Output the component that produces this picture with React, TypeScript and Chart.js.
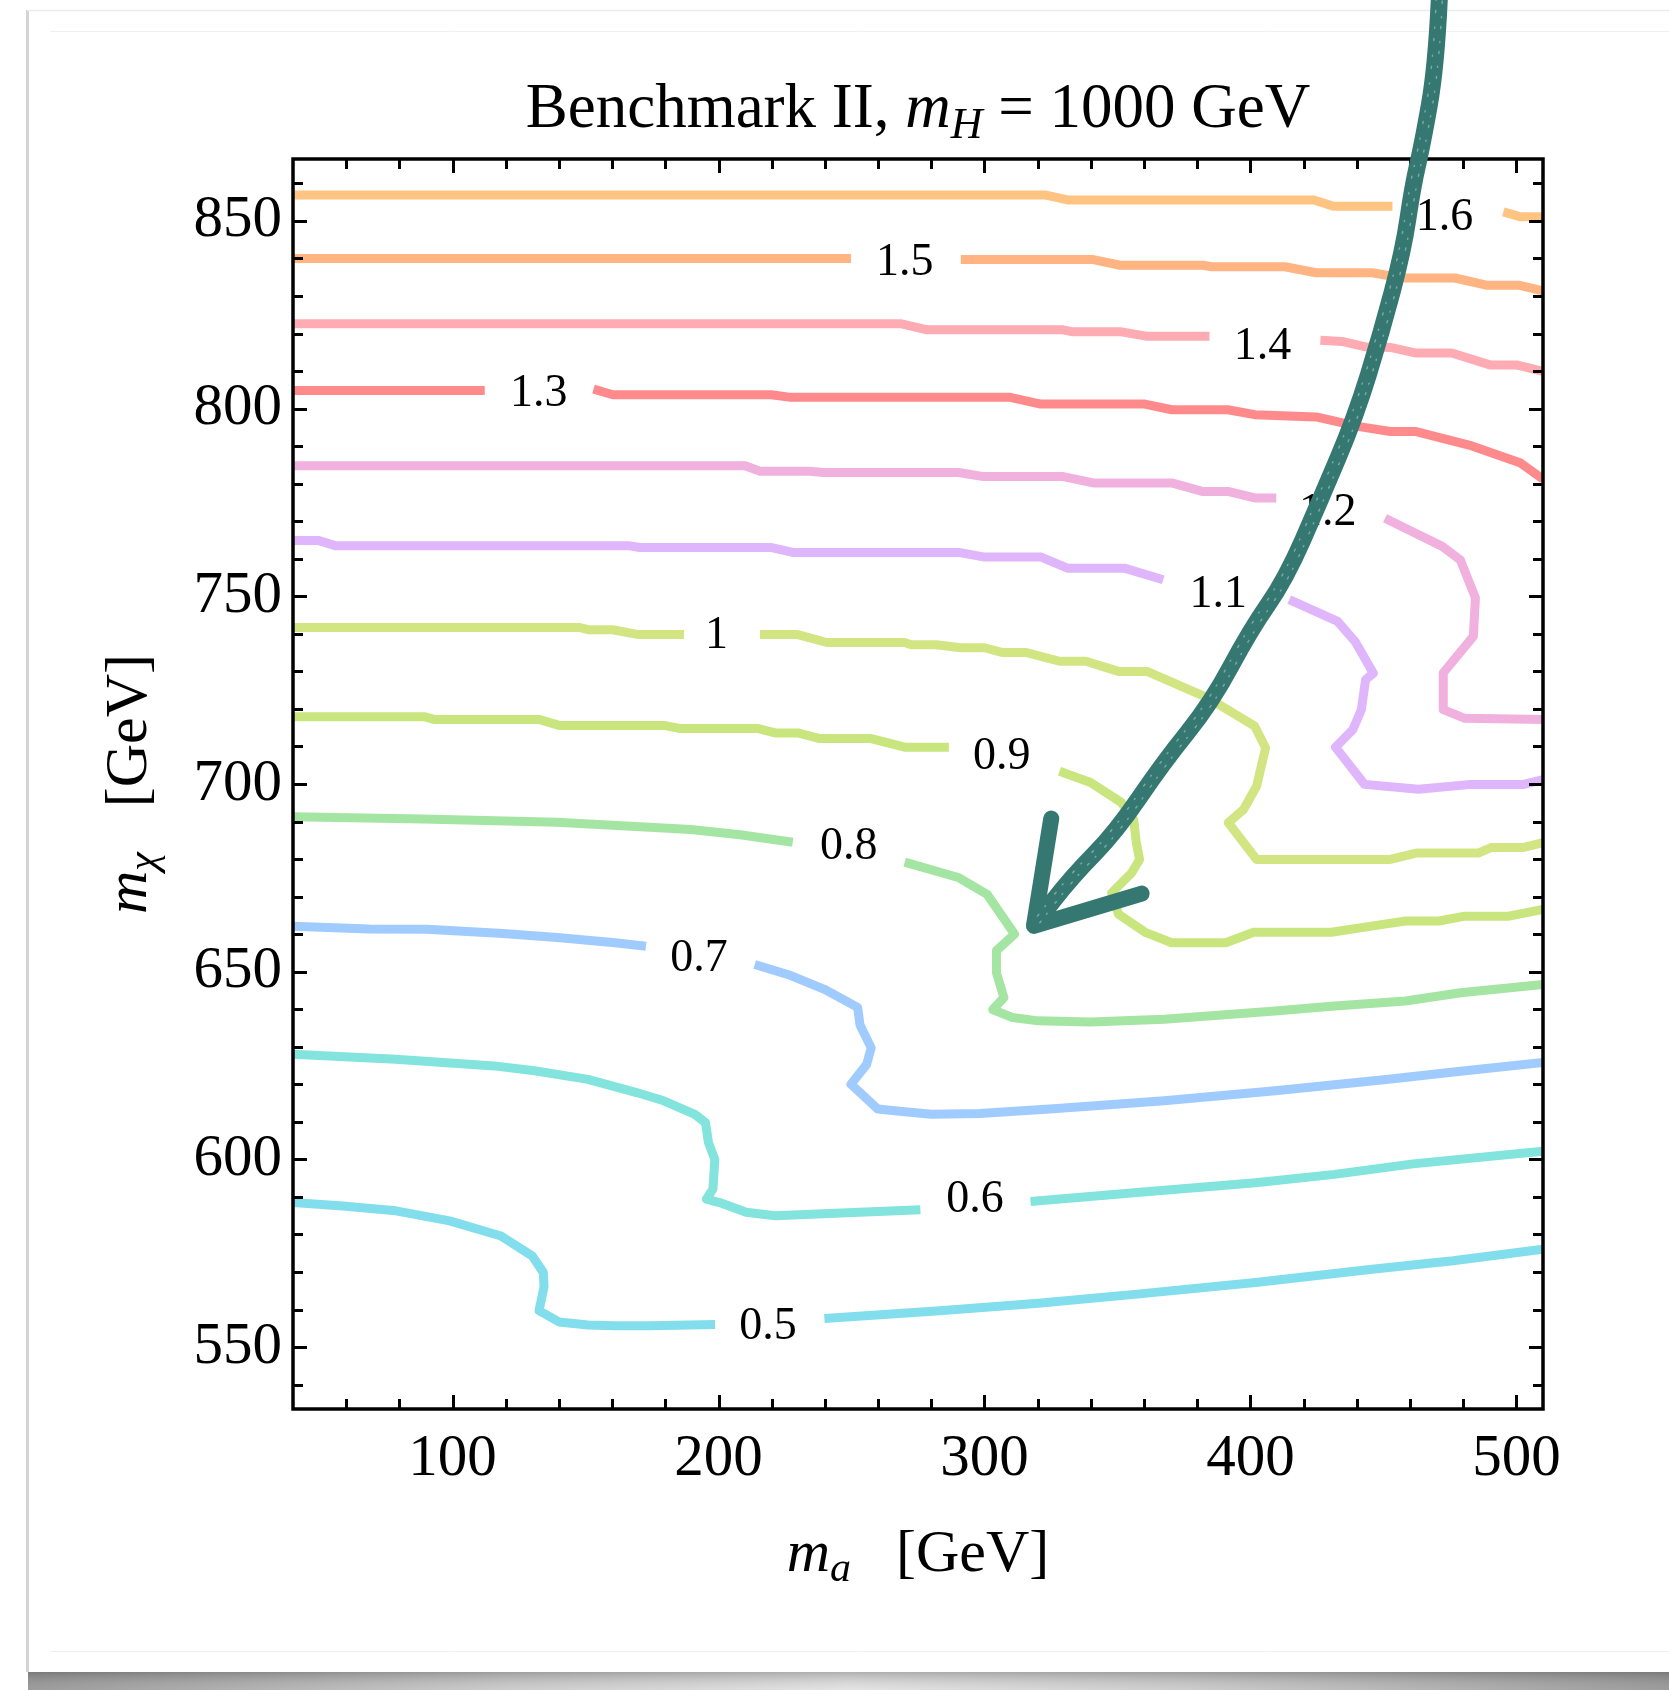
import React, { useEffect, useRef } from "react";
import { Chart, registerables } from "chart.js";

Chart.register(...registerables);

const PAGE_W = 1669;
const PAGE_H = 1690;

// Axis ranges and ticks
const xRange = [40, 510];
const yRange = [533.5, 866.5];
const xTickValues = [100, 200, 300, 400, 500];
const yTickValues = [550, 600, 650, 700, 750, 800, 850];
const xMinorStep = 20;
const yMinorStep = 10;

// Contour levels: each level is a list of polyline segments [m_a, m_chi]
const level16 = [
  [[40, 856.9], [323.1, 856.9], [331.2, 855.6], [423.9, 855.6], [431.2, 853.9], [453.4, 853.9]],
  [[495.1, 852.4], [501.6, 851.1], [510, 851.1]],
];
const level15 = [
  [[40, 840.0], [249.8, 840.0]],
  [[291.1, 839.7], [340.9, 839.7], [351, 838.2], [382.2, 838.2], [385.4, 837.8], [413, 837.8], [424.7, 836.2], [445.7, 836.2], [457.5, 834.8], [476.9, 834.8], [488.7, 832.9], [500.8, 832.9], [510, 831.4]],
];
const level14 = [
  [[40, 822.6], [268.8, 822.6], [278.5, 821.0], [329.6, 821.0], [332.8, 820.5], [351, 820.5], [360.7, 819.3], [384.6, 819.3]],
  [[426.3, 818.2], [434.4, 817.9], [442.9, 816.5], [452.6, 816.3], [462.3, 814.8], [475.7, 814.8], [490.3, 811.6], [500.4, 811.6], [510, 809.9]],
];
const level13 = [
  [[40, 804.8], [112.1, 804.8]],
  [[153, 805.2], [160.3, 803.7], [219.8, 803.7], [227.1, 803.0], [309.7, 803.0], [321.1, 801.2], [360.3, 801.2], [370.4, 799.7], [391.5, 799.7], [401.6, 798.4], [424.7, 797.8], [440.9, 795.2], [452.6, 793.9], [462.3, 793.9], [482.2, 790.3], [501.6, 785.5], [510, 781.2]],
];
const level12 = [
  [[40, 784.8], [210, 784.8], [215.6, 783.3], [234.3, 783.3], [239.3, 783.0], [290.3, 783.0], [299.6, 781.9], [329.6, 781.9], [340.9, 780.2], [370.4, 780.2], [382.2, 777.9], [391.9, 777.9], [401.6, 776.2], [409.7, 776.2]],
  [[450.6, 770.8], [472.1, 763.3], [478.9, 759.7], [484.6, 749.6], [483.8, 739.3], [472.5, 729.6], [472.5, 719.8], [480.6, 717.5], [510, 717.2]],
];
const level11 = [
  [[40, 764.9], [49.4, 764.9], [55.9, 763.5], [166, 763.5], [170.4, 763.0], [220, 763.0], [227.9, 761.7], [290.3, 761.7], [299.6, 760.5], [321.1, 760.5], [331.2, 757.5], [352.6, 757.5], [367.2, 754.4]],
  [[414.6, 749.1], [432.8, 743.3], [439.3, 738.0], [443.3, 733.1], [446.2, 729.5], [443.3, 727.8], [441.7, 719.8], [438.5, 714.5], [432, 709.8], [442.9, 699.9], [463.2, 698.6], [483, 699.9], [502.8, 699.9], [510, 701.2]],
];
const level10 = [
  [[40, 741.7], [147.6, 741.7], [151, 741.1], [160.1, 741.1], [170, 739.8], [187, 739.8]],
  [[215.6, 739.8], [229.8, 739.8], [240.7, 737.7], [270, 737.7], [272.5, 737.1], [281.8, 737.1], [291.1, 736.3], [300, 736.3], [306.9, 735.0], [315.8, 735.0], [328.2, 732.7], [338.1, 732.7], [350.4, 730.0], [361.1, 730.0], [384.2, 722.9], [401.6, 715.4], [405.7, 709.6], [402.3, 699.4], [397.4, 693.2], [391.7, 689.7], [402.3, 679.9], [452.6, 679.9], [462.3, 681.6], [485.6, 681.6], [490.7, 683.1], [502.8, 683.1], [510, 684.4]],
];
const level09 = [
  [[40, 717.9], [89.7, 717.9], [93.1, 717.2], [132.4, 717.2], [140.1, 715.6], [179.4, 715.6], [185.3, 714.8], [214.6, 714.8], [221.3, 713.6], [229.8, 713.6], [238.1, 712.1], [257.4, 712.1], [270, 709.8], [286.6, 709.8]],
  [[328.2, 703.4], [339.9, 700.4], [351.4, 695.1], [356.1, 690.5], [357.1, 684.3], [358.3, 679.9], [355.3, 676.3], [347.8, 671.0], [350.4, 665.3], [360.7, 660.4], [370.4, 657.7], [390.7, 657.7], [401.2, 660.5], [430.4, 660.5], [449.8, 662.6], [458.3, 663.5], [470.9, 663.5], [480.6, 664.8], [497.2, 664.8], [510, 666.6]],
];
const level08 = [
  [[40, 691.3], [88.9, 690.7], [139.3, 689.8], [189.6, 687.9], [208.1, 686.5], [227.9, 684.5]],
  [[270, 679.2], [290.1, 675.1], [301, 670.6], [311.3, 660.0], [304.5, 655.6], [304.5, 649.7], [307.3, 643.1], [303.1, 639.9], [310.5, 637.8], [320.2, 636.9], [339.9, 636.6], [367.6, 637.3], [409.3, 639.5], [430.4, 640.8], [458.3, 642.2], [479, 644.4], [510, 646.6]],
];
const level07 = [
  [[40, 662.1], [68.6, 661.4], [90.3, 661.3], [119, 660.2], [139.3, 659.1], [161.1, 657.7], [172.7, 656.8]],
  [[213.6, 651.9], [226.3, 649.2], [239.8, 645.3], [252.3, 640.5], [253.2, 635.8], [257.4, 629.7], [255.7, 625.3], [249.8, 620.0], [259.9, 613.4], [270, 612.7], [280.1, 612.0], [298.2, 612.2], [325.9, 613.5], [367.6, 615.6], [409.3, 618.3], [451, 621.3], [479, 623.5], [510, 625.8]],
];
const level06 = [
  [[40, 628.0], [78.7, 626.7], [115.6, 624.9], [130.8, 623.6], [150.9, 621.3], [169.2, 617.8], [179.4, 615.6], [191.1, 612.0], [195.1, 609.8], [196.2, 604.5], [198.6, 600.0], [197.9, 592.1], [195.4, 589.4], [200.4, 588.5], [210.4, 585.9], [221.3, 585.0], [253, 585.9], [275.9, 586.6]],
  [[317.3, 588.8], [357.4, 591.2], [401.9, 593.8], [431.6, 596.0], [461.1, 598.8], [510, 602.2]],
];
const level05 = [
  [[40, 588.5], [58.7, 587.6], [78.7, 586.3], [98.9, 583.6], [118.2, 579.6], [129.9, 574.3], [134.1, 569.9], [134.4, 566.1], [132.5, 559.7], [140, 556.7], [150.9, 555.9], [161, 555.7], [174.4, 555.7], [198.7, 556.0]],
  [[239.8, 557.6], [283.2, 559.7], [320.2, 561.7], [357.4, 564.1], [401.9, 567.2], [446.6, 570.8], [476.2, 573.0], [510, 576.1]],
];

const levels = [level16, level15, level14, level13, level12, level11, level10, level09, level08, level07, level06, level05];
const levelColors = ["#FFC382", "#FFB482", "#FFABB3", "#FF8A8C", "#F0B1DF", "#DFB5FC", "#D3E582", "#C9E57E", "#A5E5A4", "#9FCBFE", "#82E4DC", "#82DEEC"];

// Contour labels and where they sit on their lines
const labelText = ["1.6", "1.5", "1.4", "1.3", "1.2", "1.1", "1", "0.9", "0.8", "0.7", "0.6", "0.5"];
const labelX = [473, 270, 404.5, 132.4, 429.1, 387.9, 199.2, 306.5, 249, 192.7, 296.4, 218.6];
const labelY = [851.5, 839.7, 817.3, 804.7, 773.1, 751.3, 740.4, 708, 684, 654.1, 589.9, 556.3];

// Hand-drawn arrow pointing at the feature near m_a ≈ 320 GeV
const arrowShaftX = [471, 469.8, 464.7, 461, 457.5, 449.2, 439.5, 426.3, 413.2, 400, 385.3, 367.2, 349.3, 333.1, 319];
const arrowShaftY = [908.8, 891.0, 870.6, 859.2, 842.3, 820.2, 797.9, 775.7, 754.5, 741.1, 721.6, 705.7, 687.1, 675.5, 662.7];
const arrowHeadX = [325.1, 318.6, 359.1];
const arrowHeadY = [690.8, 662.2, 670.8];

const SERIF = "'Liberation Serif', 'Times New Roman', serif";
const ARROW_COLOR = "#357872";

function segmentsToPoints(segs: number[][][]) {
  const pts: { x: number; y: number | null }[] = [];
  segs.forEach((seg, i) => {
    if (i > 0) pts.push({ x: (seg[0][0] + segs[i - 1][segs[i - 1].length - 1][0]) / 2, y: null });
    seg.forEach(([x, y]) => pts.push({ x, y }));
  });
  return pts;
}

type Run = { text: string; size: number; italic?: boolean; dy?: number };

function runsWidth(ctx: CanvasRenderingContext2D, runs: Run[]) {
  let w = 0;
  for (const r of runs) {
    ctx.font = `${r.italic ? "italic " : ""}${r.size}px ${SERIF}`;
    w += ctx.measureText(r.text).width;
  }
  return w;
}

function drawRuns(ctx: CanvasRenderingContext2D, runs: Run[], cx: number, baseline: number) {
  const total = runsWidth(ctx, runs);
  let x = cx - total / 2;
  ctx.textAlign = "left";
  ctx.textBaseline = "alphabetic";
  for (const r of runs) {
    ctx.font = `${r.italic ? "italic " : ""}${r.size}px ${SERIF}`;
    ctx.fillText(r.text, x, baseline + (r.dy || 0));
    x += ctx.measureText(r.text).width;
  }
}

function smoothPath(ctx: CanvasRenderingContext2D, pts: number[][]) {
  ctx.beginPath();
  ctx.moveTo(pts[0][0], pts[0][1]);
  for (let i = 1; i < pts.length - 1; i++) {
    const mx = (pts[i][0] + pts[i + 1][0]) / 2;
    const my = (pts[i][1] + pts[i + 1][1]) / 2;
    ctx.quadraticCurveTo(pts[i][0], pts[i][1], mx, my);
  }
  const last = pts[pts.length - 1];
  ctx.lineTo(last[0], last[1]);
}

const pagePlugin = {
  id: "page",
  beforeDraw(chart: any) {
    const ctx: CanvasRenderingContext2D = chart.ctx;
    ctx.save();
    ctx.fillStyle = "#ffffff";
    ctx.fillRect(0, 0, PAGE_W, PAGE_H);
    // shadow strip under the sheet
    const g = ctx.createLinearGradient(28, 0, PAGE_W, 0);
    g.addColorStop(0, "#8a8a8a");
    g.addColorStop(0.3, "#c4c4c4");
    g.addColorStop(0.5, "#dedede");
    g.addColorStop(0.7, "#c4c4c4");
    g.addColorStop(1, "#8a8a8a");
    ctx.fillStyle = g;
    ctx.fillRect(28, 1672, PAGE_W - 28, PAGE_H - 1672);
    const gv = ctx.createLinearGradient(0, 1672, 0, PAGE_H);
    gv.addColorStop(0, "rgba(90,90,90,0.35)");
    gv.addColorStop(1, "rgba(255,255,255,0.15)");
    ctx.fillStyle = gv;
    ctx.fillRect(28, 1672, PAGE_W - 28, PAGE_H - 1672);
    // sheet edges
    ctx.strokeStyle = "#d4d4d4";
    ctx.lineWidth = 3;
    ctx.beginPath();
    ctx.moveTo(27.5, 10);
    ctx.lineTo(27.5, 1672);
    ctx.stroke();
    ctx.strokeStyle = "#ececec";
    ctx.lineWidth = 1.5;
    ctx.beginPath();
    ctx.moveTo(27, 10.5);
    ctx.lineTo(PAGE_W, 10.5);
    ctx.stroke();
    ctx.strokeStyle = "#f0f0f0";
    ctx.lineWidth = 1;
    ctx.beginPath();
    ctx.moveTo(50, 31.5);
    ctx.lineTo(PAGE_W, 31.5);
    ctx.moveTo(50, 1651.5);
    ctx.lineTo(PAGE_W, 1651.5);
    ctx.stroke();
    ctx.restore();
  },
};

const overlayPlugin = {
  id: "overlay",
  afterDatasetsDraw(chart: any) {
    const ctx: CanvasRenderingContext2D = chart.ctx;
    const xs = chart.scales.x;
    const ys = chart.scales.y;
    const area = chart.chartArea;
    ctx.save();

    // contour labels
    const labelSize = 46;
    ctx.fillStyle = "#000";
    ctx.font = `${labelSize}px ${SERIF}`;
    ctx.textAlign = "center";
    ctx.textBaseline = "alphabetic";
    labelText.forEach((t, i) => {
      const px = xs.getPixelForValue(labelX[i]);
      const py = ys.getPixelForValue(labelY[i]);
      ctx.fillText(t, px, py + labelSize * 0.33);
    });

    // frame with inward ticks on all four sides
    ctx.strokeStyle = "#000";
    ctx.lineWidth = 3.5;
    ctx.strokeRect(area.left, area.top, area.right - area.left, area.bottom - area.top);
    ctx.lineWidth = 3;
    ctx.beginPath();
    for (let v = 60; v <= xRange[1]; v += xMinorStep) {
      const px = Math.round(xs.getPixelForValue(v)) + 0.5;
      const len = xTickValues.includes(v) ? 14 : 10;
      ctx.moveTo(px, area.bottom);
      ctx.lineTo(px, area.bottom - len);
      ctx.moveTo(px, area.top);
      ctx.lineTo(px, area.top + len);
    }
    for (let v = 540; v <= yRange[1]; v += yMinorStep) {
      const py = Math.round(ys.getPixelForValue(v)) + 0.5;
      const len = yTickValues.includes(v) ? 14 : 10;
      ctx.moveTo(area.left, py);
      ctx.lineTo(area.left + len, py);
      ctx.moveTo(area.right, py);
      ctx.lineTo(area.right - len, py);
    }
    ctx.stroke();

    // plot title
    ctx.fillStyle = "#000";
    drawRuns(
      ctx,
      [
        { text: "Benchmark II, ", size: 63 },
        { text: "m", size: 63, italic: true },
        { text: "H", size: 44, italic: true, dy: 11 },
        { text: " = 1000 GeV", size: 63 },
      ],
      (area.left + area.right) / 2,
      127
    );

    // x axis title
    drawRuns(
      ctx,
      [
        { text: "m", size: 60, italic: true },
        { text: "a", size: 42, italic: true, dy: 10 },
        { text: "   [GeV]", size: 60 },
      ],
      (area.left + area.right) / 2,
      1571
    );

    // y axis title, rotated
    ctx.save();
    ctx.translate(146, (area.top + area.bottom) / 2);
    ctx.rotate(-Math.PI / 2);
    drawRuns(
      ctx,
      [
        { text: "m", size: 60, italic: true },
        { text: "χ", size: 42, italic: true, dy: 10 },
        { text: "   [GeV]", size: 60 },
      ],
      0,
      0
    );
    ctx.restore();

    // arrow
    const shaft = arrowShaftX.map((x, i) => [xs.getPixelForValue(x), ys.getPixelForValue(arrowShaftY[i])]);
    const head = arrowHeadX.map((x, i) => [xs.getPixelForValue(x), ys.getPixelForValue(arrowHeadY[i])]);
    ctx.strokeStyle = ARROW_COLOR;
    ctx.lineCap = "round";
    ctx.lineJoin = "round";
    ctx.lineWidth = 17;
    smoothPath(ctx, shaft);
    ctx.stroke();
    ctx.lineWidth = 16;
    ctx.beginPath();
    ctx.moveTo(head[0][0], head[0][1]);
    ctx.lineTo(head[1][0], head[1][1]);
    ctx.lineTo(head[2][0], head[2][1]);
    ctx.stroke();
    // rough chalk texture
    ctx.lineWidth = 1.5;
    ctx.strokeStyle = "rgba(255,255,255,0.35)";
    ctx.setLineDash([2, 13, 1, 9]);
    ctx.translate(3, 1);
    smoothPath(ctx, shaft);
    ctx.stroke();
    ctx.translate(-6, -2);
    ctx.setLineDash([1, 10, 2, 15]);
    smoothPath(ctx, shaft);
    ctx.stroke();
    ctx.setLineDash([]);
    ctx.restore();
  },
};

export default function App() {
  const canvasRef = useRef<HTMLCanvasElement | null>(null);

  useEffect(() => {
    document.body.style.margin = "0";
    const canvas = canvasRef.current;
    if (!canvas) return;

    const datasets = levels.map((segs, i) => ({
      label: labelText[i],
      data: segmentsToPoints(segs),
      borderColor: levelColors[i],
      backgroundColor: levelColors[i],
      borderWidth: 9,
      pointRadius: 0,
      tension: 0,
      spanGaps: false,
      borderJoinStyle: "round" as const,
      borderCapStyle: "butt" as const,
    }));

    const chart = new Chart(canvas, {
      type: "line",
      data: { datasets },
      options: {
        responsive: false,
        animation: false,
        devicePixelRatio: 1,
        layout: { padding: { left: 0, right: 126, top: 159, bottom: 161 } },
        plugins: { legend: { display: false }, tooltip: { enabled: false }, title: { display: false } },
        scales: {
          x: {
            type: "linear",
            min: xRange[0],
            max: xRange[1],
            grid: { display: false, drawTicks: false },
            border: { display: false },
            afterBuildTicks: (s: any) => {
              s.ticks = xTickValues.map((v) => ({ value: v }));
            },
            afterFit: (s: any) => {
              s.height = 120;
            },
            ticks: {
              color: "#000",
              padding: 15,
              maxRotation: 0,
              autoSkip: false,
              font: { family: SERIF, size: 59 },
              callback: (v: any) => String(v),
            },
          },
          y: {
            type: "linear",
            min: yRange[0],
            max: yRange[1],
            grid: { display: false, drawTicks: false },
            border: { display: false },
            afterBuildTicks: (s: any) => {
              s.ticks = yTickValues.map((v) => ({ value: v }));
            },
            afterFit: (s: any) => {
              s.width = 293;
            },
            ticks: {
              color: "#000",
              padding: 11,
              autoSkip: false,
              font: { family: SERIF, size: 59 },
              callback: (v: any) => String(v),
            },
          },
        },
      },
      plugins: [pagePlugin, overlayPlugin],
    });

    return () => chart.destroy();
  }, []);

  return (
    <canvas
      ref={canvasRef}
      width={PAGE_W}
      height={PAGE_H}
      style={{ display: "block", width: PAGE_W, height: PAGE_H }}
    />
  );
}
